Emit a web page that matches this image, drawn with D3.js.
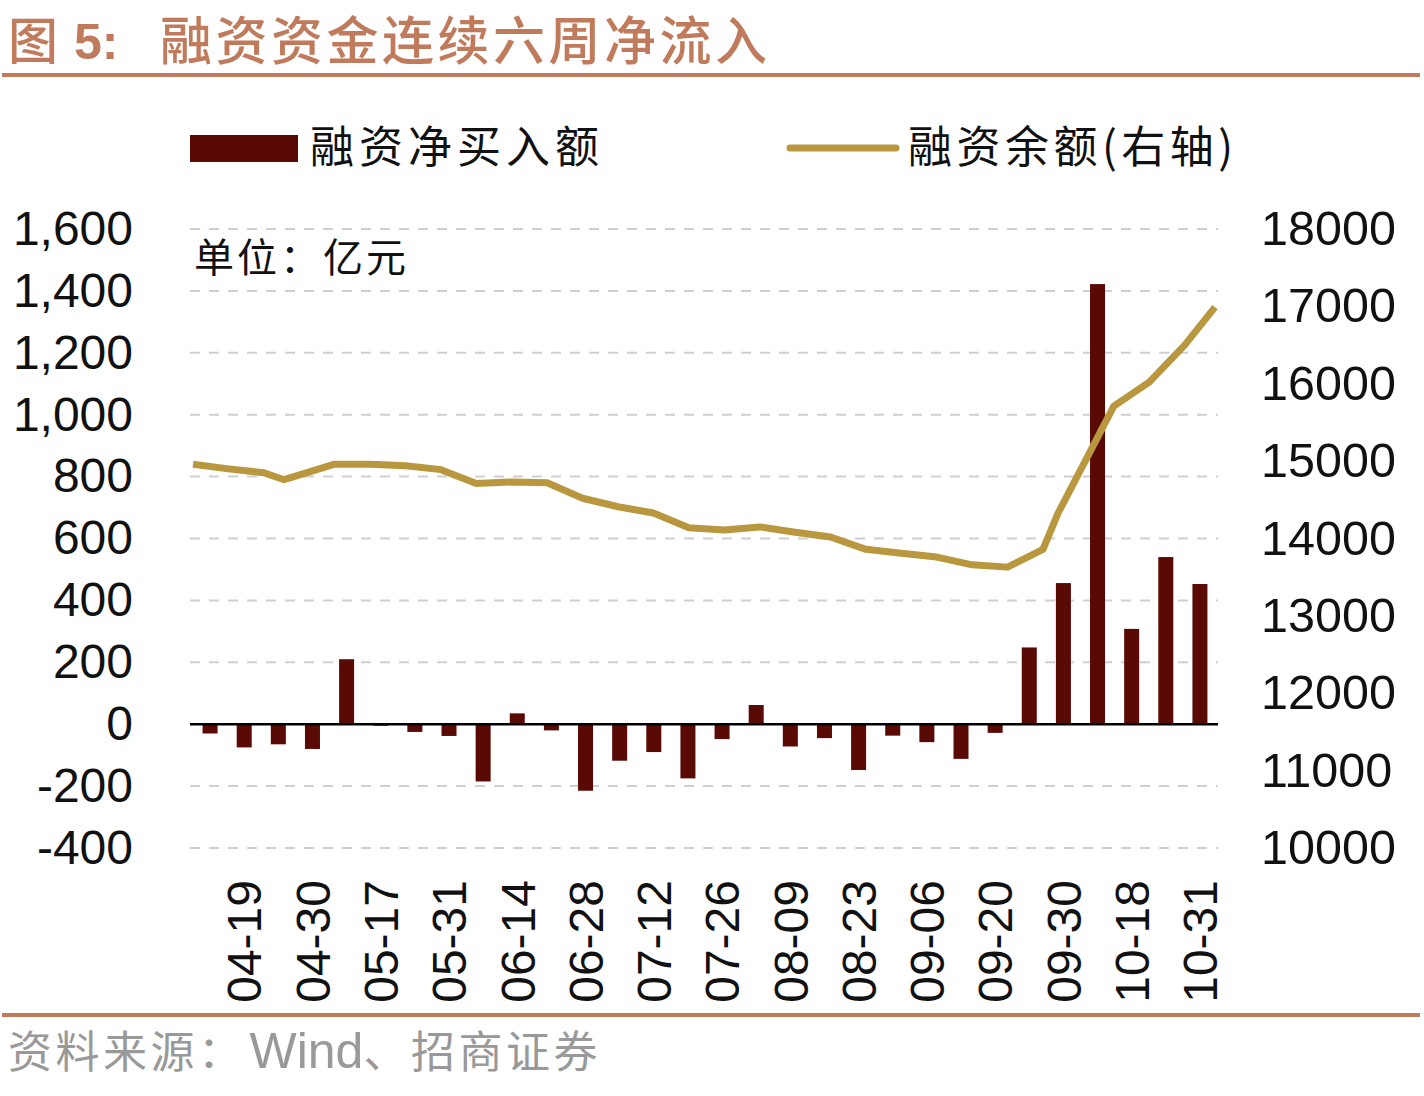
<!DOCTYPE html>
<html>
<head>
<meta charset="utf-8">
<script src="https://cdn.jsdelivr.net/npm/d3@7"></script>
<style>
  body { margin: 0; background: #fff; }
  svg { display: block; }
</style>
</head>
<body>
<div id="chart"></div>
<script>
// weekly dates (2024), bars use them as categories, the line sits on a date axis
const dates = ["04-12", "04-19", "04-26", "04-30", "05-10", "05-17", "05-24", "05-31",
    "06-07", "06-14", "06-21", "06-28", "07-05", "07-12", "07-19", "07-26",
    "08-02", "08-09", "08-16", "08-23", "08-30", "09-06", "09-13", "09-20",
    "09-27", "09-30", "10-11", "10-18", "10-25", "10-31"];

// 融资净买入额 (亿元)
const netBuy = [-30, -75, -65, -80, 210, -5, -25, -38,
    -185, 35, -20, -215, -118, -90, -175, -48,
    62, -72, -45, -148, -37, -58, -112, -28,
    248, 456, 1422, 308, 540, 453];

// 融资余额 (亿元, 右轴)
const balance = [14960, 14900, 14850, 14760, 14960, 14960, 14940, 14890,
    14710, 14730, 14720, 14520, 14410, 14330, 14140, 14110,
    14150, 14080, 14020, 13860, 13810, 13760, 13660, 13630,
    13860, 14330, 15710, 16020, 16500, 16990];

const leftTicks = [-400, -200, 0, 200, 400, 600, 800, 1000, 1200, 1400, 1600];
const rightTicks = [10000, 11000, 12000, 13000, 14000, 15000, 16000, 17000, 18000];

const barColor = "#5a0a05";
const lineColor = "#b9973f";
const accent = "#c07a5c";
const cjk = "'Noto Sans CJK SC', 'Noto Sans', sans-serif";
const latin = "'Liberation Sans', Arial, sans-serif";

const width = 1424, height = 1096;
const x0 = 193, x1 = 1217, yTop = 229, yBottom = 848;

const svg = d3.select("#chart").append("svg")
    .attr("width", width)
    .attr("height", height);

// title
svg.append("text")
    .attr("x", 8).attr("y", 59)
    .style("font-family", cjk).style("font-size", "50px").style("font-weight", 500)
    .attr("fill", accent)
    .text("图");
svg.append("text")
    .attr("x", 74).attr("y", 59)
    .style("font-family", latin).style("font-size", "50px").style("font-weight", "bold")
    .attr("fill", accent)
    .text("5:");
svg.append("text")
    .attr("x", 160).attr("y", 60)
    .style("font-family", cjk).style("font-size", "52px").style("font-weight", 500)
    .style("letter-spacing", "3.5px")
    .attr("fill", accent)
    .text("融资资金连续六周净流入");

svg.append("rect").attr("x", 2).attr("y", 73).attr("width", 1418).attr("height", 4).attr("fill", accent);
svg.append("rect").attr("x", 2).attr("y", 1013).attr("width", 1418).attr("height", 4).attr("fill", accent);

// scales
const x = d3.scaleBand().domain(dates).range([x0, x1]).paddingInner(0.56).paddingOuter(0.28);
const parse = d3.timeParse("%Y-%m-%d");
const xt = d3.scaleTime()
    .domain([parse("2024-" + dates[0]), parse("2024-" + dates[dates.length - 1])])
    .range([x0, 1215]);
const yL = d3.scaleLinear().domain([-400, 1600]).range([yBottom, yTop]);
const yR = d3.scaleLinear().domain([10000, 18000]).range([yBottom, yTop]);

// gridlines
svg.append("g").selectAll("line")
    .data(leftTicks.filter(d => d !== 0))
    .enter().append("line")
    .attr("x1", 190).attr("x2", 1218)
    .attr("y1", d => yL(d)).attr("y2", d => yL(d))
    .attr("stroke", "#cfcfcf")
    .attr("stroke-width", 2)
    .attr("stroke-dasharray", "10,9");

// left axis labels (plain hyphen for negatives, like the source)
const fmt = d => d3.format(",")(d).replace("\u2212", "-");
const leftAxis = svg.append("g")
    .attr("transform", `translate(133,0)`)
    .call(d3.axisLeft(yL).tickValues(leftTicks).tickSize(0).tickPadding(0).tickFormat(fmt));
leftAxis.select(".domain").remove();
leftAxis.selectAll("text")
    .style("font-family", latin).style("font-size", "48px").attr("fill", "#111");

// right axis labels
const rightAxis = svg.append("g")
    .attr("transform", `translate(1261,0)`)
    .call(d3.axisRight(yR).tickValues(rightTicks).tickSize(0).tickPadding(0).tickFormat(d3.format("d")));
rightAxis.select(".domain").remove();
rightAxis.selectAll("text")
    .style("font-family", latin).style("font-size", "48.5px").attr("fill", "#111");

// bars
svg.append("g").selectAll("rect")
    .data(dates)
    .enter().append("rect")
    .attr("x", d => x(d))
    .attr("width", x.bandwidth())
    .attr("y", (d, i) => Math.min(yL(0), yL(netBuy[i])))
    .attr("height", (d, i) => Math.abs(yL(netBuy[i]) - yL(0)))
    .attr("fill", barColor);

// zero line
svg.append("line")
    .attr("x1", 190).attr("x2", 1218)
    .attr("y1", yL(0)).attr("y2", yL(0))
    .attr("stroke", "#000").attr("stroke-width", 2.5);

// balance line on the date axis
const line = d3.line()
    .x((d, i) => xt(parse("2024-" + dates[i])))
    .y(d => yR(d));
svg.append("path")
    .datum(balance)
    .attr("d", line)
    .attr("fill", "none")
    .attr("stroke", lineColor)
    .attr("stroke-width", 7)
    .attr("stroke-linejoin", "round");

// x labels, every second week
const xAxis = svg.append("g")
    .attr("transform", `translate(0,880)`)
    .call(d3.axisBottom(x).tickValues(dates.filter((d, i) => i % 2 === 1)).tickSize(0).tickPadding(0));
xAxis.select(".domain").remove();
xAxis.selectAll("text")
    .attr("transform", "rotate(-90)")
    .attr("text-anchor", "end")
    .attr("x", 0).attr("y", 0).attr("dy", "0.36em")
    .style("font-family", latin).style("font-size", "48px").attr("fill", "#111");

// unit label
svg.append("text")
    .attr("x", 194).attr("y", 272)
    .style("font-family", cjk).style("font-size", "40px").style("letter-spacing", "3px")
    .attr("fill", "#111")
    .text("单位：亿元");

// legend
svg.append("rect").attr("x", 190).attr("y", 135).attr("width", 108).attr("height", 27).attr("fill", barColor);
svg.append("text")
    .attr("x", 310).attr("y", 163)
    .style("font-family", cjk).style("font-size", "44px").style("letter-spacing", "5px")
    .attr("fill", "#111")
    .text("融资净买入额");
svg.append("line")
    .attr("x1", 790).attr("x2", 896).attr("y1", 148).attr("y2", 148)
    .attr("stroke", lineColor).attr("stroke-width", 7).attr("stroke-linecap", "round");
svg.append("text")
    .attr("x", 908).attr("y", 163)
    .style("font-family", cjk).style("font-size", "44px").style("letter-spacing", "4.5px")
    .attr("fill", "#111")
    .text("融资余额(右轴)");

// source
const src = svg.append("text")
    .attr("x", 8).attr("y", 1068)
    .style("font-family", cjk).style("font-size", "44px").style("letter-spacing", "3.5px")
    .attr("fill", "#999");
src.append("tspan").text("资料来源：");
src.append("tspan").attr("dx", 4).style("font-family", latin).style("font-size", "50px")
    .style("letter-spacing", "0px").text("Wind");
src.append("tspan").text("、招商证券");
</script>
</body>
</html>
